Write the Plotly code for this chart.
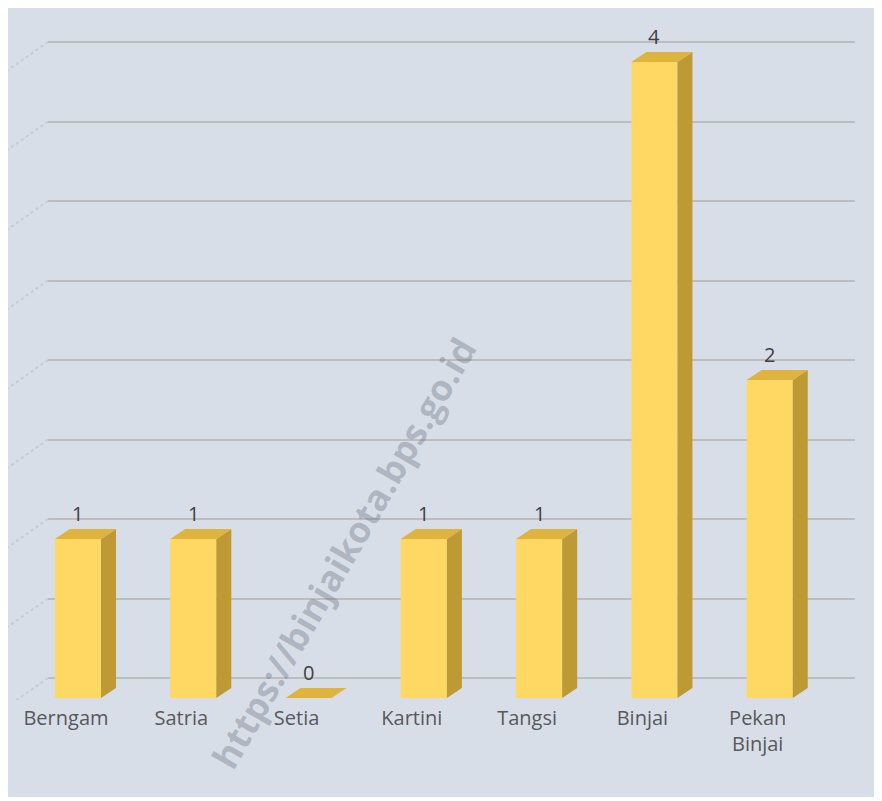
import plotly.graph_objects as go

categories = ["Berngam", "Satria", "Setia", "Kartini", "Tangsi", "Binjai", "Pekan<br>Binjai"]
values = [1, 1, 0, 1, 1, 4, 2]
grid_vals = [0, 0.5, 1, 1.5, 2, 2.5, 3, 3.5, 4]

BG = "rgb(216,222,232)"
FRONT = "rgb(255,216,100)"
SIDE = "rgb(190,154,52)"
TOP = "rgb(222,180,62)"

bar_w = 0.4
dx, dy = 0.13, 0.063   # depth offset in data units

xs = list(range(len(categories)))
fig = go.Figure()

# front faces
fig.add_trace(go.Bar(x=xs, y=values, width=bar_w, marker=dict(color=FRONT, line=dict(width=0)),
                     yaxis="y2", hoverinfo="skip", showlegend=False))

# side and top faces
for x, v in zip(xs, values):
    r = x + bar_w / 2
    l = x - bar_w / 2
    if v > 0:
        fig.add_trace(go.Scatter(x=[r, r, r + dx, r + dx, r], y=[0, v, v + dy, dy, 0],
                                 fill="toself", fillcolor=SIDE, mode="lines", line=dict(width=0),
                                 yaxis="y2", hoverinfo="skip", showlegend=False))
    fig.add_trace(go.Scatter(x=[l, r, r + dx, l + dx, l], y=[v, v, v + dy, v + dy, v],
                             fill="toself", fillcolor=TOP, mode="lines", line=dict(width=0),
                             yaxis="y2", hoverinfo="skip", showlegend=False))

annotations = []
for x, v in zip(xs, values):
    annotations.append(dict(x=x, y=v, xref="x", yref="y2", text=str(v), showarrow=False,
                            yanchor="middle", yshift=26,
                            font=dict(family="Open Sans", size=20, color="#404040")))

annotations.append(dict(x=0.366, y=0.213, xref="paper", yref="paper", xanchor="center", yanchor="middle",
                        text="<b>https://binjaikota.bps.go.id</b>", showarrow=False,
                        textangle=-60, font=dict(family="Open Sans", size=36,
                                                 color="rgba(90,95,110,0.32)")))

shapes = []
for g in grid_vals:
    shapes.append(dict(type="line", xref="paper", yref="y", x0=0, x1=-0.053, y0=g, y1=g - 0.189,
                       line=dict(color="rgba(200,200,200,0.9)", width=2, dash="dot")))

y1_range = [-0.1384, 4.2013]
off = 0.1258
fig.update_layout(
    width=870, height=789,
    margin=dict(l=40, r=23, t=2, b=97),
    paper_bgcolor=BG, plot_bgcolor=BG,
    xaxis=dict(range=[-0.26, 6.74], tickvals=xs, ticktext=categories, showgrid=False,
               zeroline=False, showline=False, ticks="", ticklabelshift=-12, ticklabelstandoff=4,
               tickfont=dict(family="Open Sans", size=20, color="#595959")),
    yaxis=dict(range=y1_range, tickvals=grid_vals, showticklabels=False, showgrid=True,
               gridcolor="#bdbdbd", gridwidth=2, zeroline=False, showline=False),
    yaxis2=dict(range=[y1_range[0] + off, y1_range[1] + off], overlaying="y", visible=False,
                showgrid=False, zeroline=False),
    annotations=annotations,
    shapes=shapes,
    bargap=0.6,
)

fig.write_html("out.html")
